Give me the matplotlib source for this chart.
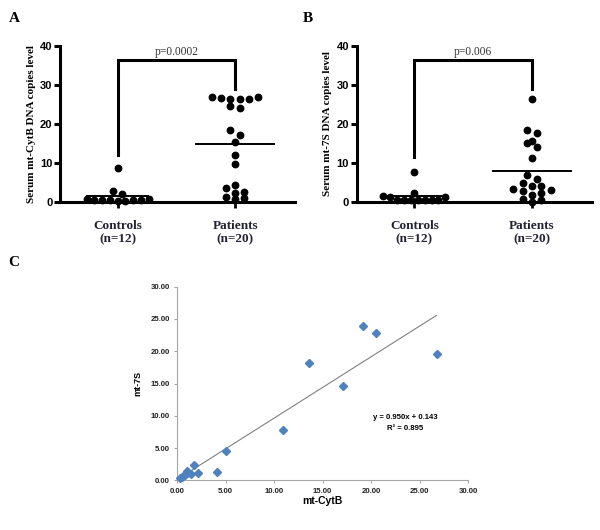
import matplotlib
matplotlib.use("Agg")
import matplotlib.pyplot as plt
import numpy as np

# panel A: serum mt-CytB copies
a_controls = [8.6, 2.9, 2.0, 0.8, 0.7, 0.6, 0.5, 0.5, 0.4, 0.4, 0.3, 0.3]
a_patients = [26.8, 26.8, 26.6, 26.5, 26.4, 26.3, 24.5, 24.2, 18.4, 17.3,
              15.3, 12.1, 9.8, 4.4, 3.5, 2.6, 2.3, 1.4, 0.9, 0.7]
a_p = "p=0.0002"

# panel B: serum mt-7S copies
b_controls = [7.6, 2.4, 1.5, 1.3, 1.2, 0.6, 0.5, 0.5, 0.5, 0.5, 0.4, 0.4]
b_patients = [26.5, 18.5, 17.8, 15.6, 15.2, 14.0, 11.2, 6.9, 5.9, 4.8,
              4.2, 4.2, 3.3, 3.2, 2.9, 2.4, 1.8, 0.85, 0.5, 0.1]
b_p = "p=0.006"

groups = ["Controls\n(n=12)", "Patients\n(n=20)"]

# panel C: mt-CytB vs mt-7S
c_cytb = [0.28, 0.45, 0.62, 0.80, 0.96, 1.05, 1.38, 1.72, 2.16, 4.1, 5.0,
          10.95, 13.6, 17.15, 19.2, 20.5, 26.75]
c_7s = [0.40, 0.55, 0.67, 0.85, 1.40, 1.10, 0.98, 2.35, 1.18, 1.35, 4.55,
        7.85, 18.25, 14.55, 23.95, 22.9, 19.5]
slope, intercept, r2 = 0.950, 0.143, 0.895

W, H = 600, 530
fig = plt.figure(figsize=(6, 5.3), dpi=100)


def swarm(vals, center, xpx, rowh=1.5, step=9.3, maxw=62):
    # column scatter a la prism: group close values into rows, spread rows from the centre
    order = list(np.argsort(vals))
    xs = np.zeros(len(vals))
    rows = []
    for i in order:
        if rows and vals[i] - vals[rows[-1][0]] <= rowh:
            rows[-1].append(i)
        else:
            rows.append([i])
    for row in rows:
        n = len(row)
        st = step if n < 3 else min(step, maxw / (n - 1))
        for k, i in enumerate(row):
            if n % 2:
                off = (k + 1) // 2 * (1 if k % 2 else -1)
            else:
                off = (k // 2 + 0.5) * (1 if k % 2 == 0 else -1)
            xs[i] = center + off * st / xpx
    return xs


def column_panel(rect, controls, patients, ylabel, ptext, legs, half):
    ax = fig.add_axes(rect)
    ax.set_xlim(0.51, 2.51)
    ax.set_ylim(0, 40)
    xpx = rect[2] * W / 2.0
    for pos, vals, hw in zip([1, 2], [controls, patients], half):
        vals = np.array(vals)
        xs = swarm(vals, pos, xpx)
        ax.plot(xs, vals, "o", color="black", ms=4.6, clip_on=False, zorder=3)
        ax.plot([pos - hw, pos + hw], [vals.mean()] * 2, color="black", lw=1.4, zorder=4)
    # significance bracket
    ax.plot([1, 1, 2, 2], [legs[0], 36.3, 36.3, legs[1]], color="black", lw=2.2,
            solid_joinstyle="miter", clip_on=False)
    ax.text(1.5, 37.0, ptext, ha="center", va="bottom", fontsize=8.3,
            family="Liberation Serif", color="#333333")
    for s in ["top", "right"]:
        ax.spines[s].set_visible(False)
    for s in ["left", "bottom"]:
        ax.spines[s].set_linewidth(2.2)
    ax.set_yticks([0, 10, 20, 30, 40])
    ax.set_xticks([1, 2])
    ax.set_xticklabels(groups, family="Liberation Serif", fontweight="bold",
                       fontsize=9.5, color="#222233", linespacing=1.15)
    ax.tick_params(axis="y", width=2.2, length=4, labelsize=8, pad=1.5)
    ax.tick_params(axis="x", width=2, length=4, pad=9)
    for t in ax.get_yticklabels():
        t.set_fontweight("bold")
        t.set_family("Liberation Sans")
    ax.set_ylabel(ylabel, fontsize=8, fontweight="bold", family="Liberation Serif",
                  labelpad=3)
    return ax


column_panel([60 / W, 1 - 202 / H, 235 / W, 156 / H], a_controls, a_patients,
             "Serum mt-CytB DNA copies level", a_p, (12.0, 28.9), (0.26, 0.33))
column_panel([356.7 / W, 1 - 202 / H, 235.3 / W, 156 / H], b_controls, b_patients,
             "Serum mt-7S DNA copies level", b_p, (11.5, 29.0), (0.26, 0.33))

fig.text(14 / W, 1 - 18 / H, "A", fontsize=11, fontweight="bold",
         family="Liberation Serif", ha="center", va="center")
fig.text(308 / W, 1 - 18 / H, "B", fontsize=11, fontweight="bold",
         family="Liberation Serif", ha="center", va="center")
fig.text(14 / W, 1 - 262 / H, "C", fontsize=11, fontweight="bold",
         family="Liberation Serif", ha="center", va="center")

# panel C
axc = fig.add_axes([177.3 / W, 1 - 480.3 / H, 290.7 / W, 193.6 / H])
axc.set_xlim(0, 30)
axc.set_ylim(0, 30)
axc.plot(c_cytb, c_7s, "D", color="#4F81BD", ms=4.2, mec="#4F81BD", zorder=3,
         clip_on=False)
xl = np.array([min(c_cytb), max(c_cytb)])
axc.plot(xl, slope * xl + intercept, color="#808080", lw=0.8)
axc.text(23.5, 9.8, "y = %.3fx + %.3f" % (slope, intercept), ha="center", va="center",
         fontsize=5.6, fontweight="bold", family="Liberation Sans")
axc.text(23.5, 8.1, "R² = %.3f" % r2, ha="center", va="center",
         fontsize=5.6, fontweight="bold", family="Liberation Sans")
for s in ["top", "right"]:
    axc.spines[s].set_visible(False)
for s in ["left", "bottom"]:
    axc.spines[s].set_color("#a6a6a6")
    axc.spines[s].set_linewidth(0.8)
ticks = np.arange(0, 31, 5)
axc.set_xticks(ticks)
axc.set_yticks(ticks)
axc.set_xticklabels(["%.2f" % t for t in ticks])
axc.set_yticklabels(["%.2f" % t for t in ticks])
axc.tick_params(length=2.5, width=0.8, color="#a6a6a6", labelsize=5.6, pad=3)
for t in axc.get_xticklabels() + axc.get_yticklabels():
    t.set_fontweight("bold")
    t.set_family("Liberation Sans")
    t.set_color("#222222")
axc.set_xlabel("mt-CytB", fontsize=7.5, fontweight="bold", family="Liberation Sans",
               labelpad=1)
axc.set_ylabel("mt-7S", fontsize=6.5, fontweight="bold", family="Liberation Sans",
               labelpad=6)

fig.savefig("out.png", dpi=100)
